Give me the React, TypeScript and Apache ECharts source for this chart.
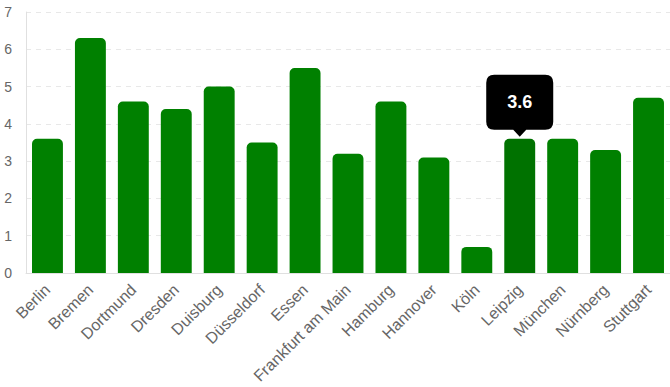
import React, { useEffect, useRef } from "react";
import * as echarts from "echarts";

const cities = [
  "Berlin", "Bremen", "Dortmund", "Dresden", "Duisburg", "Düsseldorf", "Essen",
  "Frankfurt am Main", "Hamburg", "Hannover", "Köln", "Leipzig", "München", "Nürnberg", "Stuttgart",
];
const values = [3.6, 6.3, 4.6, 4.4, 5.0, 3.5, 5.5, 3.2, 4.6, 3.1, 0.7, 3.6, 3.6, 3.3, 4.7];
const highlighted = "Leipzig";
const yTicks = { min: 0, max: 7, interval: 1 };

const FONT = "'Liberation Sans', Arial, sans-serif";
const TIP_PATH =
  "path://M8,0 H59 Q67,0 67,8 V47 Q67,55 59,55 H40 L33.5,62 L27,55 H8 Q0,55 0,47 V8 Q0,0 8,0 Z";

export default function App() {
  const ref = useRef<HTMLDivElement>(null);
  useEffect(() => {
    if (!ref.current) return;
    const chart = echarts.init(ref.current, undefined, { renderer: "svg" });
    const hiIdx = cities.indexOf(highlighted);
    chart.setOption({
      animation: false,
      textStyle: { fontFamily: FONT },
      grid: { left: 26, right: 0, top: 12, bottom: 114, containLabel: false },
      xAxis: {
        type: "category",
        data: cities,
        axisLine: { lineStyle: { color: "#e0e0e0" } },
        axisTick: { show: false },
        axisLabel: {
          rotate: 45,
          interval: 0,
          margin: 14,
          color: "#666",
          fontSize: 16,
          fontFamily: FONT,
        },
      },
      yAxis: {
        type: "value",
        min: yTicks.min,
        max: yTicks.max,
        interval: yTicks.interval,
        axisLine: { show: true, lineStyle: { color: "#e0e0e0" } },
        axisTick: { show: false },
        axisLabel: { color: "#666", fontSize: 14, margin: 14, fontFamily: FONT },
        splitLine: { lineStyle: { color: "#e8e8e8", type: [5, 5] } },
      },
      series: [
        {
          type: "bar",
          barCategoryGap: "28%",
          data: values.map((v, i) => ({
            value: v,
            itemStyle: {
              color: i === hiIdx ? "#007200" : "#008000",
              borderRadius: [5, 5, 0, 0],
            },
          })),
          markPoint: {
            symbol: TIP_PATH,
            symbolSize: [67, 62],
            symbolKeepAspect: false,
            symbolOffset: [0, -33],
            itemStyle: { color: "#000" },
            label: {
              show: true,
              formatter: "{c}",
              color: "#fff",
              fontWeight: "bold",
              fontSize: 18,
              fontFamily: FONT,
              offset: [0, -4],
            },
            data: [{ coord: [highlighted, values[hiIdx]], value: values[hiIdx] }],
          },
        },
      ],
    });
    return () => chart.dispose();
  }, []);
  return <div ref={ref} style={{ width: 670, height: 387, position: "absolute", left: 0, top: 0 }} />;
}
